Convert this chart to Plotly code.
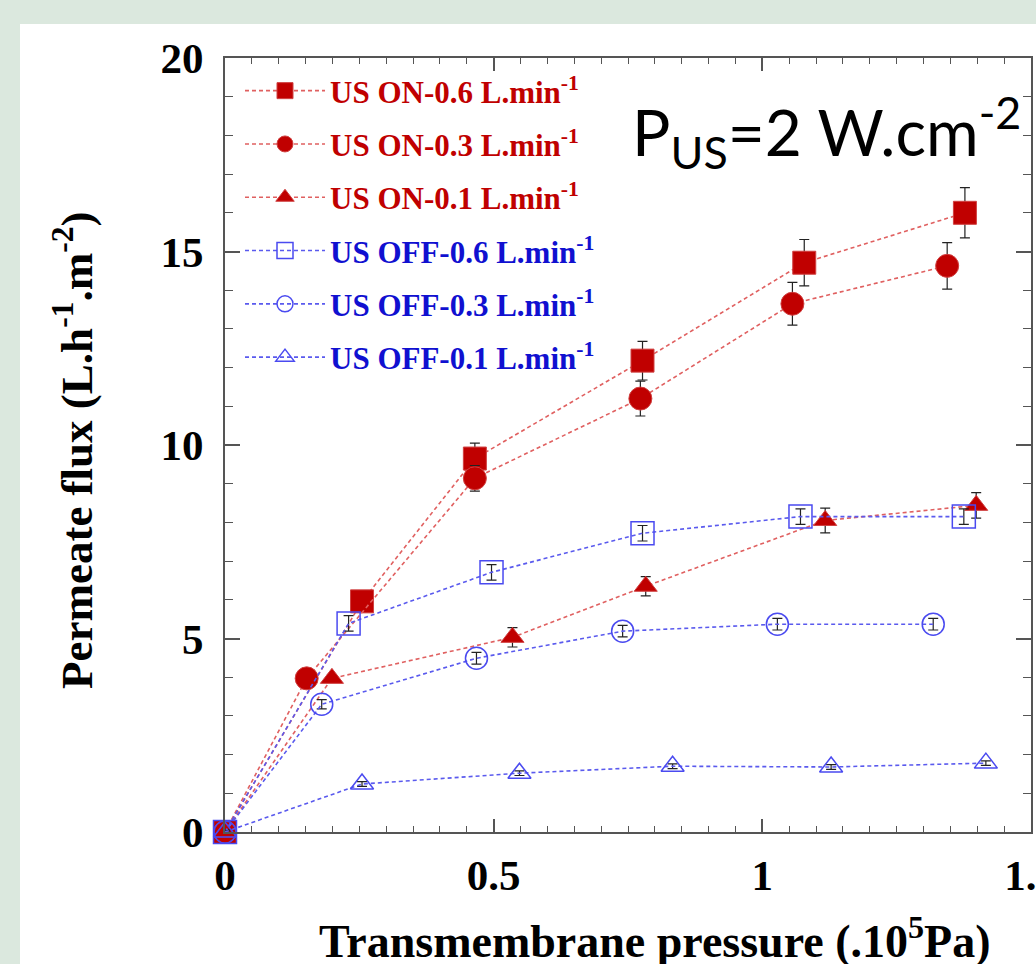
import plotly.graph_objects as go

# ---- data ----
x_on06 = [0, 0.255, 0.465, 0.777, 1.078, 1.377]
y_on06 = [0, 5.96, 9.65, 12.18, 14.71, 16.0]
e_on06 = [0.05, 0.15, 0.4, 0.5, 0.6, 0.65]

x_on03 = [0, 0.152, 0.465, 0.773, 1.056, 1.344]
y_on03 = [0, 3.97, 9.14, 11.2, 13.65, 14.63]
e_on03 = [0.05, 0.1, 0.33, 0.45, 0.55, 0.6]

x_on01 = [0, 0.199, 0.535, 0.783, 1.117, 1.398]
y_on01 = [0, 3.97, 5.03, 6.35, 8.05, 8.44]
e_on01 = [0.05, 0.1, 0.25, 0.25, 0.32, 0.33]

x_off06 = [0, 0.230, 0.496, 0.777, 1.071, 1.375]
y_off06 = [0, 5.39, 6.71, 7.72, 8.15, 8.15]
e_off06 = [0.05, 0.2, 0.2, 0.2, 0.2, 0.2]

x_off03 = [0, 0.180, 0.468, 0.740, 1.028, 1.318]
y_off03 = [0, 3.30, 4.49, 5.19, 5.37, 5.37]
e_off03 = [0.05, 0.12, 0.15, 0.15, 0.15, 0.15]

x_off01 = [0, 0.255, 0.548, 0.833, 1.128, 1.416]
y_off01 = [0, 1.24, 1.52, 1.70, 1.68, 1.78]
e_off01 = [0.03, 0.06, 0.06, 0.06, 0.06, 0.06]

names = ["US ON-0.6 L.min<sup>-1</sup>", "US ON-0.3 L.min<sup>-1</sup>", "US ON-0.1 L.min<sup>-1</sup>",
         "US OFF-0.6 L.min<sup>-1</sup>", "US OFF-0.3 L.min<sup>-1</sup>", "US OFF-0.1 L.min<sup>-1</sup>"]

x_tickvals = [0, 0.5, 1, 1.5]
x_ticktext = ["0", "0.5", "1", "1.5"]

RED = "#c00000"
RED_LINE = "#e06060"
BLUE = "#1010d0"
BLUE_MARK = "#4a4af0"
BLUE_LINE = "#5a5aee"
GREEN_BG = "#dbe8de"
SERIF = "Times New Roman, Liberation Serif, serif"

series = [
    (x_on06, y_on06, e_on06, "square", True),
    (x_on03, y_on03, e_on03, "circle", True),
    (x_on01, y_on01, e_on01, "triangle-up", True),
    (x_off06, y_off06, e_off06, "square-open", False),
    (x_off03, y_off03, e_off03, "circle-open", False),
    (x_off01, y_off01, e_off01, "triangle-up-open", False),
]
sizes = [23, 23, 20, 23, 22, 20]

fig = go.Figure()
for i, (xs, ys, es, sym, filled) in enumerate(series):
    tcol = RED if filled else BLUE
    fig.add_trace(go.Scatter(
        x=xs, y=ys, mode="lines+markers",
        name=f'<span style="color:{tcol}">{names[i]}</span>',
        legendgroup=f"g{i}",
        cliponaxis=False,
        line=dict(color=RED_LINE if filled else BLUE_LINE, width=1.6, dash="4px,3px"),
        marker=dict(symbol=sym, size=sizes[i],
                    color=RED if filled else BLUE_MARK,
                    line=dict(color="#d04040" if filled else BLUE_MARK, width=1 if filled else 1.5)),
        error_y=dict(type="data", array=es, visible=True, color="#222222", thickness=1.2, width=5),
    ))

W, H = 1036, 964
L, R, T, B = 225, 5, 58, 132
pw, ph = W - L - R, H - T - B

def px_to_paper_x(px):
    return (px - L) / pw

def px_to_paper_y(py):
    return (H - B - py) / ph

axis_common = dict(
    showline=True, linecolor="#555555", linewidth=2, mirror="ticks",
    ticks="inside", tickcolor="#555555", tickwidth=1.5,
    showgrid=False, zeroline=False,
    tickfont=dict(family=SERIF, size=43, color="black", weight="bold"),
)

fig.update_xaxes(range=[0, 1.5], ticklen=13,
                 tickvals=x_tickvals, ticktext=x_ticktext,
                 minor=dict(ticks="inside", dtick=0.05, ticklen=6, tickcolor="#555555", tickwidth=1.2),
                 ticklabeloverflow="allow", ticklabelstandoff=4,
                 automargin=False, **axis_common)
fig.update_yaxes(range=[0, 20], tick0=0, dtick=5, ticklen=15,
                 minor=dict(ticks="inside", dtick=1, ticklen=8, tickcolor="#555555", tickwidth=1.2),
                 ticklabelstandoff=11, automargin=False, **axis_common)

fig.update_layout(
    width=W, height=H,
    margin=dict(l=L, r=R, t=T, b=B, pad=0),
    paper_bgcolor=GREEN_BG,
    plot_bgcolor="white",
    showlegend=True,
    legend=dict(
        x=px_to_paper_x(240), y=px_to_paper_y(64), xanchor="left", yanchor="top",
        bgcolor="rgba(0,0,0,0)", borderwidth=0,
        font=dict(family=SERIF, size=31, color="black", weight="bold"),
        itemwidth=80, tracegroupgap=10, itemsizing="trace",
    ),
    shapes=[dict(type="rect", xref="paper", yref="paper",
                 x0=px_to_paper_x(20), x1=px_to_paper_x(W + 5),
                 y0=px_to_paper_y(H + 5), y1=px_to_paper_y(24),
                 fillcolor="white", line=dict(width=0), layer="below")],
    annotations=[
        dict(text="P<sub>US</sub>=2 W.cm<sup>-2</sup>", xref="paper", yref="paper",
             x=px_to_paper_x(630), y=px_to_paper_y(132), xanchor="left", yanchor="middle",
             showarrow=False, font=dict(family="Lato, Open Sans, sans-serif", size=64, color="black")),
        dict(text="Transmembrane pressure (.10<sup>5</sup>Pa)", xref="paper", yref="paper",
             x=px_to_paper_x(655), y=px_to_paper_y(938), xanchor="center", yanchor="middle",
             showarrow=False, font=dict(family=SERIF, size=46, color="black", weight="bold")),
        dict(text="Permeate flux (L.h<sup>-1</sup>.m<sup>-2</sup>)", xref="paper", yref="paper",
             x=px_to_paper_x(73), y=px_to_paper_y(451), xanchor="center", yanchor="middle",
             textangle=-90,
             showarrow=False, font=dict(family=SERIF, size=45, color="black", weight="bold")),
    ],
)

fig.write_html(
    "out.html",
    config={"displayModeBar": False},
    post_script="document.body.style.margin='0px';document.body.style.backgroundColor='" + GREEN_BG + "';",
)
